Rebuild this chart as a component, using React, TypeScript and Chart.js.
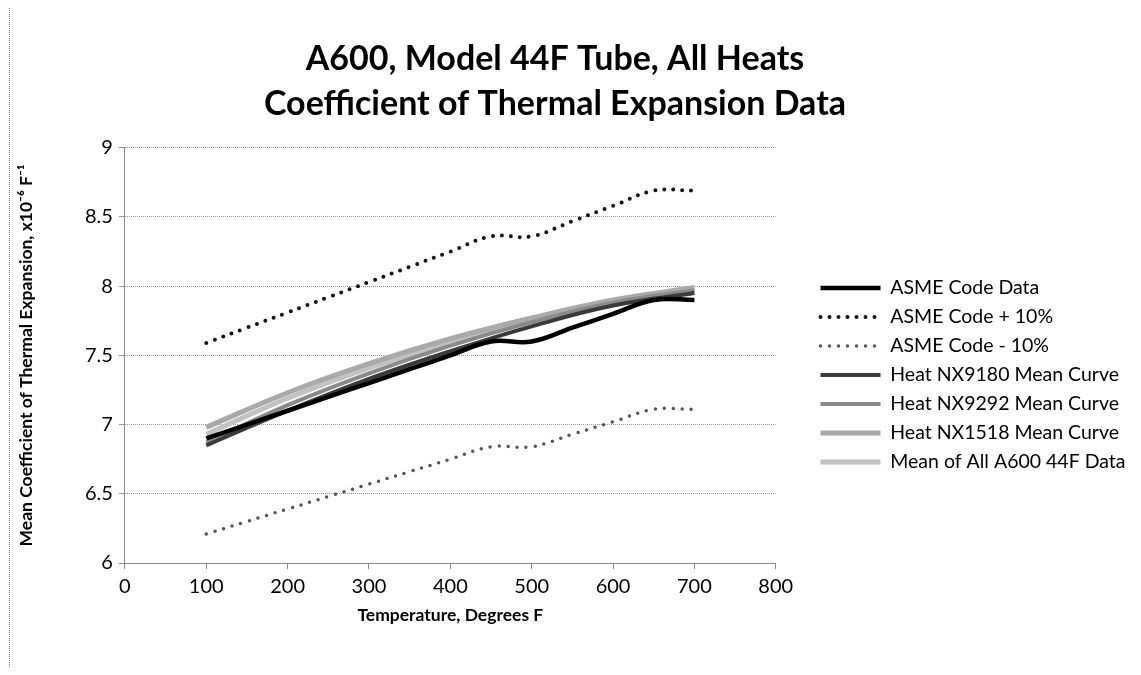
import React, { useEffect, useRef } from "react";
import { Chart, registerables } from "chart.js";

Chart.register(...registerables);

// ASME code data (50 F steps)
const asmeTemps = [100, 150, 200, 250, 300, 350, 400, 450, 500, 550, 600, 650, 700];
const asmeCode = [6.9, 7.0, 7.1, 7.2, 7.3, 7.4, 7.5, 7.6, 7.6, 7.7, 7.8, 7.9, 7.9];
const asmePlus10 = [7.59, 7.7, 7.81, 7.92, 8.03, 8.14, 8.25, 8.36, 8.36, 8.47, 8.58, 8.69, 8.69];
const asmeMinus10 = [6.21, 6.3, 6.39, 6.48, 6.57, 6.66, 6.75, 6.84, 6.84, 6.93, 7.02, 7.11, 7.11];

// Heat mean curves (100 F steps)
const heatTemps = [100, 200, 300, 400, 500, 600, 700];
const nx9180 = [6.85, 7.1, 7.33, 7.53, 7.71, 7.86, 7.95];
const nx9292 = [6.87, 7.14, 7.37, 7.57, 7.74, 7.88, 7.97];
const nx1518 = [6.98, 7.23, 7.44, 7.62, 7.77, 7.9, 7.99];
const meanAll = [6.93, 7.19, 7.41, 7.59, 7.75, 7.89, 7.98];

const seriesLabels = [
  "ASME Code Data",
  "ASME Code + 10%",
  "ASME Code - 10%",
  "Heat NX9180 Mean Curve",
  "Heat NX9292 Mean Curve",
  "Heat NX1518 Mean Curve",
  "Mean of All A600 44F Data",
];

const titleLines = ["A600, Model 44F Tube, All Heats", "Coefficient of Thermal Expansion Data"];
const xTitle = "Temperature, Degrees F";
const yTitle = "Mean Coefficient of Thermal Expansion, x10\u207B\u2076 F\u207B\u00B9";

const FONT = "Lato, Calibri, 'Open Sans', sans-serif";

const pts = (xs: number[], ys: number[]) => xs.map((x, i) => ({ x, y: ys[i] }));

// Fine placement of the title and legend boxes after Chart.js layout
const placementPlugin = {
  id: "placement",
  afterLayout(chart: any) {
    const t = chart.titleBlock;
    if (t) {
      t.left = 55;
      t.right = 1055;
      t.width = 1000;
    }
    const lg = chart.legend;
    if (lg) {
      lg.left = 811;
      lg.right = chart.width;
      lg.width = lg.right - lg.left;
      const h = lg.bottom - lg.top;
      const center = 375;
      lg.top = center - h / 2;
      lg.bottom = center + h / 2;
    }
  },
};

export default function App() {
  const ref = useRef<HTMLCanvasElement | null>(null);

  useEffect(() => {
    if (!ref.current) return;
    const common = { pointRadius: 0, pointHoverRadius: 0, tension: 0.4, fill: false };
    const chart = new Chart(ref.current, {
      type: "line",
      data: {
        datasets: [
          { ...common, label: seriesLabels[0], data: pts(asmeTemps, asmeCode), borderColor: "#000000", borderWidth: 4.5 },
          { ...common, label: seriesLabels[1], data: pts(asmeTemps, asmePlus10), borderColor: "#111111", borderWidth: 4, borderDash: [0, 9], borderCapStyle: "round" },
          { ...common, label: seriesLabels[2], data: pts(asmeTemps, asmeMinus10), borderColor: "#555555", borderWidth: 3.5, borderDash: [0, 9], borderCapStyle: "round" },
          { ...common, label: seriesLabels[3], data: pts(heatTemps, nx9180), borderColor: "#3a3a3a", borderWidth: 4 },
          { ...common, label: seriesLabels[4], data: pts(heatTemps, nx9292), borderColor: "#8a8a8a", borderWidth: 4 },
          { ...common, label: seriesLabels[5], data: pts(heatTemps, nx1518), borderColor: "#a9a9a9", borderWidth: 5 },
          { ...common, label: seriesLabels[6], data: pts(heatTemps, meanAll), borderColor: "#c2c2c2", borderWidth: 5 },
        ] as any,
      },
      options: {
        responsive: false,
        animation: false,
        layout: { padding: { left: 16, right: 112, top: 0, bottom: 49 } },
        plugins: {
          tooltip: { enabled: false },
          title: {
            display: true,
            text: titleLines,
            color: "#000",
            font: { family: FONT, size: 34, weight: "bold", lineHeight: 1.32 },
            padding: { top: 37, bottom: 21 },
          },
          legend: {
            position: "right",
            labels: {
              usePointStyle: true,
              pointStyleWidth: 60,
              color: "#000",
              font: { family: FONT, size: 19.5 },
              padding: 9.5,
              generateLabels: (c: any) =>
                c.data.datasets.map((ds: any, i: number) => ({
                  text: ds.label,
                  fillStyle: ds.borderColor,
                  strokeStyle: ds.borderColor,
                  lineWidth: ds.borderWidth,
                  lineDash: ds.borderDash || [],
                  lineCap: ds.borderCapStyle || "butt",
                  pointStyle: "line",
                  hidden: false,
                  datasetIndex: i,
                  fontColor: "#000",
                })),
            },
          },
        },
        scales: {
          x: {
            type: "linear",
            min: 0,
            max: 800,
            ticks: { stepSize: 100, color: "#000", font: { family: FONT, size: 20 }, padding: 6 },
            grid: { drawOnChartArea: false, drawTicks: true, tickLength: 6, color: "#888" },
            border: { color: "#888" },
            title: { display: true, text: xTitle, color: "#000", font: { family: FONT, size: 17.5, weight: "bold" }, padding: { top: 0, bottom: 0 } },
          },
          y: {
            min: 6,
            max: 9,
            ticks: { stepSize: 0.5, color: "#000", font: { family: FONT, size: 20 }, padding: 6, callback: (v: any) => String(v) },
            grid: { color: "#999", tickLength: 6, lineWidth: 1 },
            border: { color: "#888", dash: [1, 1] },
            title: { display: true, text: yTitle, color: "#000", font: { family: FONT, size: 17.5, weight: "bold" }, padding: { top: 0, bottom: 42 } },
          },
        },
      } as any,
      plugins: [placementPlugin],
    });
    return () => chart.destroy();
  }, []);

  return (
    <div style={{ position: "relative", width: 1141, height: 675, margin: -8, background: "#fff" }}>
      <canvas ref={ref} width={1141} height={675} style={{ display: "block" }} />
      <div
        style={{
          position: "absolute",
          left: 9,
          top: 3,
          width: 1140,
          height: 700,
          border: "1px dotted #888",
          pointerEvents: "none",
          boxSizing: "border-box",
        }}
      />
    </div>
  );
}
